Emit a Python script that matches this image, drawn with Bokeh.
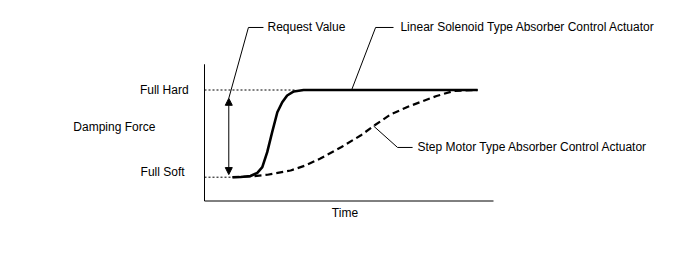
from bokeh.plotting import figure
from bokeh.models import Range1d, Arrow, NormalHead
from bokeh.core.properties import value
from bokeh.embed import file_html
from bokeh.resources import INLINE

# ---- data (time in arbitrary units 0..100, damping force 0 = Full Soft, 1 = Full Hard)
linear_t = [9.7, 12.5, 15.9, 18.2, 20.0, 21.7, 23.4, 25.2, 26.9, 28.6, 30.9, 34.3, 94.5]
linear_f = [0.0, 0.002, 0.014, 0.048, 0.115, 0.287, 0.516, 0.745, 0.860, 0.937, 0.983, 1.0, 1.0]

step_t = [9.7, 15.9, 21.8, 29.8, 34.9, 40.1, 47.4, 54.0, 58.5, 64.4, 70.6, 80.3, 86.2, 94.5]
step_f = [0.0, 0.008, 0.028, 0.077, 0.134, 0.214, 0.346, 0.478, 0.587, 0.719, 0.811, 0.931, 0.989, 1.0]

level_names = ["Full Soft", "Full Hard"]
level_values = [0.0, 1.0]
y_title = "Damping Force"
x_title = "Time"
callouts = ["Request Value",
            "Linear Solenoid Type Absorber Control Actuator",
            "Step Motor Type Absorber Control Actuator"]

FONT = value("Liberation Sans")
FS = value("12px")
DY = 0.046  # text baseline lift

p = figure(width=688, height=269, output_backend="svg", toolbar_location=None,
           x_range=Range1d(-70.59, 167.47), y_range=Range1d(-1.0585, 2.0264),
           min_border=0, outline_line_color=None)
p.axis.visible = False
p.grid.visible = False
p.background_fill_color = "white"
p.border_fill_color = "white"

# axes box lines
p.segment(x0=[0, 0], y0=[-0.273, -0.273], x1=[0, 100], y1=[1.295, -0.273],
          line_color="black", line_width=1)

# dotted reference levels
p.segment(x0=[0, 0], y0=level_values, x1=[linear_t[0], 31.5], y1=level_values,
          line_color="black", line_width=1, line_dash="2 2")

# curves
p.line(step_t, step_f, line_color="black", line_width=2.2, line_dash="7 4")
p.line(linear_t, linear_f, line_color="black", line_width=2.6)

# request value double arrow
p.add_layout(Arrow(x_start=8.4, y_start=0.03, x_end=8.4, y_end=0.905,
                   line_color="black", line_width=1,
                   start=NormalHead(size=7, fill_color="black", line_color="black"),
                   end=NormalHead(size=7, fill_color="black", line_color="black")))

# leader lines
p.line([20.4, 15.2, 8.4], [1.717, 1.717, 0.905], line_color="black", line_width=1)
p.line([65.4, 59.2, 50.9], [1.717, 1.717, 1.0], line_color="black", line_width=1)
p.line([58.5, 66.8, 72.0], [0.587, 0.341, 0.341], line_color="black", line_width=1)

# level labels
p.text(x=[-6.9, -5.5], y=[0.011 + DY, 0.956 + DY], text=level_names, text_align="right",
       text_baseline="alphabetic", text_font=FONT, text_font_size=FS, text_color="black")
# axis titles
p.text(x=[-45.4], y=[0.532 + DY], text=[y_title], text_align="left",
       text_baseline="alphabetic", text_font=FONT, text_font_size=FS, text_color="black")
p.text(x=[48.6], y=[-0.459 + DY], text=[x_title], text_align="center",
       text_baseline="alphabetic", text_font=FONT, text_font_size=FS, text_color="black")
# callout labels
p.text(x=[21.8, 67.8, 73.7], y=[1.682 + DY, 1.682 + DY, 0.306 + DY], text=callouts,
       text_align="left", text_baseline="alphabetic", text_font=FONT, text_font_size=FS,
       text_color="black")

open("out.html", "w").write(file_html(p, INLINE))
